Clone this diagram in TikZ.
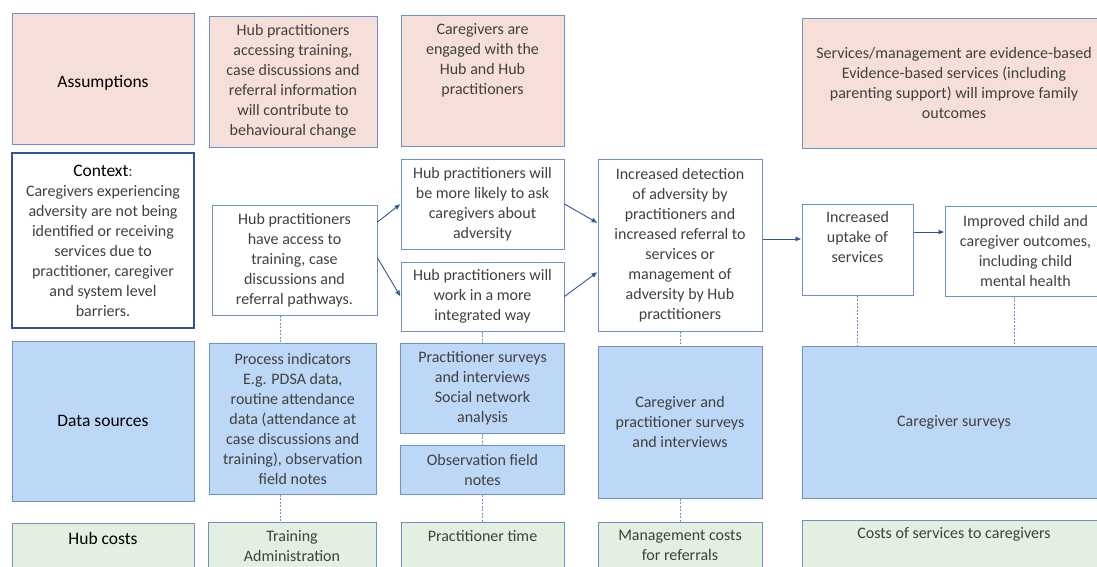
\documentclass[tikz,border=0pt]{standalone}
\usepackage{fontspec}
\setmainfont{Carlito}
\usetikzlibrary{arrows.meta}
\definecolor{boxline}{HTML}{7191C6}
\definecolor{darkline}{HTML}{2F5597}
\definecolor{assumfill}{HTML}{F5DFD8}
\definecolor{datafill}{HTML}{BDD7F6}
\definecolor{costfill}{HTML}{E2EFE1}
\definecolor{txtgray}{HTML}{404040}

\begin{document}
\begin{tikzpicture}[x=1pt,y=-1pt,
  box/.style={draw=boxline, line width=1pt, align=center, inner sep=0pt, text=txtgray, font=\fontsize{16}{20}\selectfont},
  head/.style={box, text=black, font=\fontsize{17.5}{21}\selectfont},
  assum/.style={box, fill=assumfill},
  data/.style={box, fill=datafill},
  cost/.style={box, fill=costfill},
  toptext/.style={anchor=north, align=center, inner sep=0pt, yshift=-9pt, text=txtgray, font=\fontsize{16}{20}\selectfont},
  flow/.style={draw=darkline, line width=0.9pt, -{Latex[length=6pt,width=5pt]}},
  link/.style={draw=boxline, line width=0.8pt, dash pattern=on 2pt off 1.5pt}]

\useasboundingbox (0,0) rectangle (1097,566);

% assumptions row
\node[assum, head, minimum width=182, minimum height=131] (assum) at (103,78.5) {\raisebox{-9pt}[0pt][0pt]{Assumptions}};
\node[assum, minimum width=168, minimum height=131] (assum1) at (293,81.5)
  {Hub practitioners\\accessing training,\\case discussions and\\referral information\\will contribute to\\behavioural change};
\node[assum, minimum width=163, minimum height=131,
  label={[toptext]north:Caregivers are\\engaged with the\\Hub and Hub\\practitioners}] (assum2) at (482.5,80.5) {};
\node[assum, minimum width=304, minimum height=130] (assum3) at (954,83)
  {Services/management are evidence-based\\Evidence-based services (including\\parenting support) will improve family\\outcomes};

% context and pathway
\node[box, draw=darkline, line width=2pt, minimum width=182, minimum height=175] (context) at (103,240.5)
  {{\color{black}\fontsize{17.5}{20}\selectfont Context}:\\Caregivers experiencing\\adversity are not being\\identified or receiving\\services due to\\practitioner, caregiver\\and system level\\barriers.};
\node[box, minimum width=165, minimum height=110] (access) at (294.5,260)
  {Hub practitioners\\have access to\\training, case\\discussions and\\referral pathways.};
\node[box, minimum width=163, minimum height=90] (ask) at (482.5,204)
  {Hub practitioners will\\be more likely to ask\\caregivers about\\adversity};
\node[box, minimum width=163, minimum height=69] (integ) at (482.5,296.5)
  {Hub practitioners will\\work in a more\\integrated way};
\node[box, minimum width=164, minimum height=172] (detect) at (680,245)
  {Increased detection\\of adversity by\\practitioners and\\increased referral to\\services or\\management of\\adversity by Hub\\practitioners};
\node[box, minimum width=111, minimum height=91,
  label={[toptext, yshift=1pt]north:Increased\\uptake of\\services}] (uptake) at (857.5,249.5) {};
\node[box, minimum width=161, minimum height=90] (improved) at (1025.5,251)
  {Improved child and\\caregiver outcomes,\\including child\\mental health};

% data sources row
\node[data, head, minimum width=182, minimum height=160] (dsrc) at (103,421) {Data sources};
\node[data, minimum width=167.5, minimum height=151] (proc) at (292.75,418.5)
  {Process indicators\\E.g. PDSA data,\\routine attendance\\data (attendance at\\case discussions and\\training), observation\\field notes};
\node[data, minimum width=164, minimum height=90] (psurv) at (482.5,388)
  {Practitioner surveys\\and interviews\\Social network\\analysis};
\node[data, minimum width=164, minimum height=49] (obs) at (482.5,470)
  {Observation field\\notes};
\node[data, minimum width=164, minimum height=152] (cpsurv) at (680,422)
  {Caregiver and\\practitioner surveys\\and interviews};
\node[data, minimum width=304, minimum height=152] (csurv) at (954,422) {Caregiver surveys};

% costs row
\node[cost, minimum width=182, minimum height=60,
  label={[toptext, yshift=-1pt, text=black, font=\fontsize{17.5}{21}\selectfont]north:Hub costs}] (hcost) at (103,553) {};
\node[cost, minimum width=168, minimum height=60,
  label={[toptext]north:Training\\Administration}] (ctrain) at (292,552) {};
\node[cost, minimum width=163, minimum height=60,
  label={[toptext]north:Practitioner time}] (ctime) at (482.5,552) {};
\node[cost, minimum width=164, minimum height=60,
  label={[toptext]north:Management costs\\for referrals}] (cmgmt) at (680,552) {};
\node[cost, minimum width=304, minimum height=60,
  label={[toptext, yshift=1pt]north:Costs of services to caregivers}] (cserv) at (954,550) {};

% arrows
\draw[flow] ([yshift=38pt]access.east) -- (ask.west);
\draw[flow] ([yshift=2pt]access.east) -- (integ.west);
\draw[flow] (ask.east) -- ([yshift=22pt]detect.west);
\draw[flow] (integ.east) -- ([yshift=-27pt]detect.west);
\draw[flow] ([yshift=6pt]detect.east) -- ([yshift=10.5pt]uptake.west);
\draw[flow] ([yshift=17.5pt]uptake.east) -- ([yshift=19pt]improved.west);

% dashed links to data and costs
\coordinate (col1) at (280,0);
\coordinate (col5) at (1014,0);
\draw[link] (access.south -| col1) -- (proc.north -| col1);
\draw[link] (proc.south -| col1) -- (ctrain.north -| col1);
\draw[link] (integ.south) -- (psurv.north);
\draw[link] (psurv.south) -- (obs.north);
\draw[link] (obs.south) -- (ctime.north);
\draw[link] (detect.south) -- (cpsurv.north);
\draw[link] (cpsurv.south) -- (cmgmt.north);
\draw[link] (uptake.south) -- (uptake.south |- csurv.north);
\draw[link] (improved.south -| col5) -- (csurv.north -| col5);
\end{tikzpicture}
\end{document}
